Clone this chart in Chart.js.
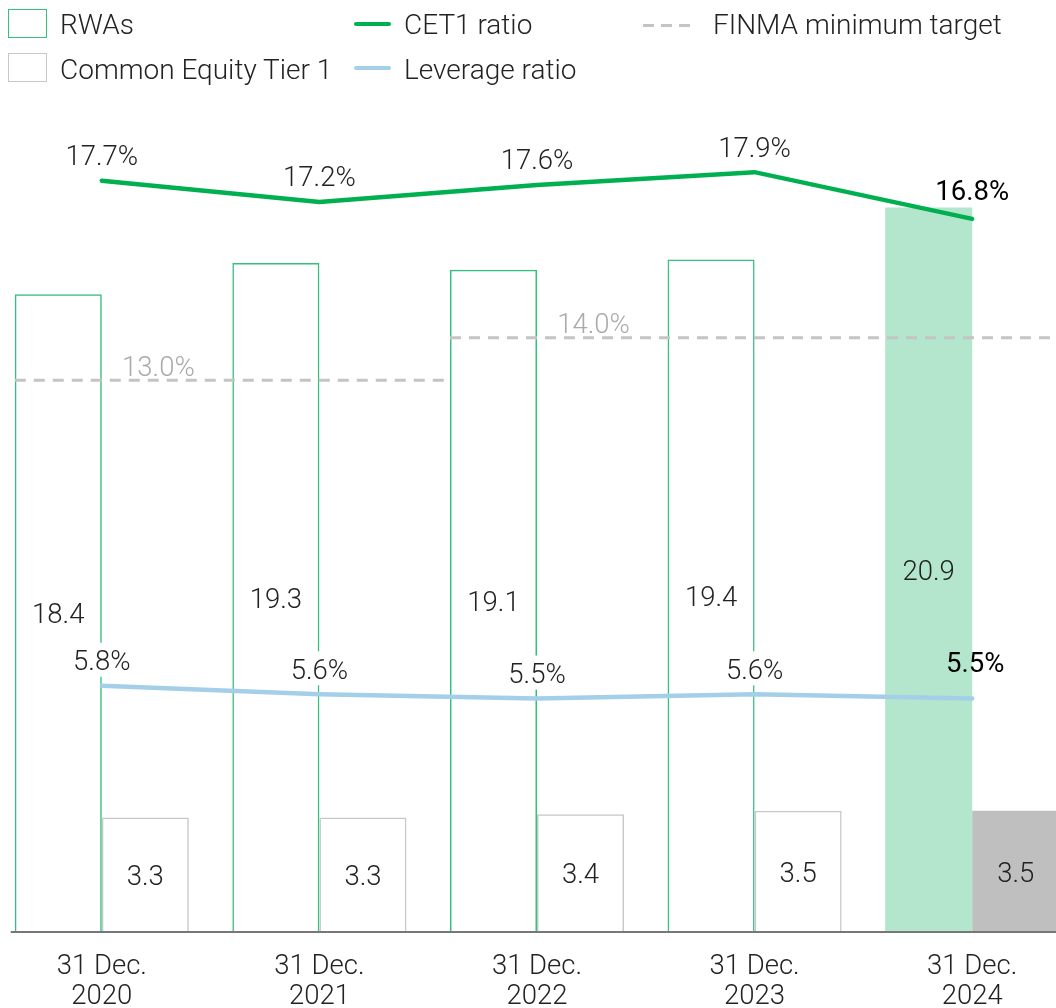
<!DOCTYPE html>
<html>
<head>
<meta charset="utf-8">
<script src="https://cdn.jsdelivr.net/npm/chart.js@4"></script>
<style>
  html, body { margin: 0; padding: 0; background: #fff; overflow: hidden; width: 1056px; height: 1008px; }
  body { position: relative; font-family: Roboto, sans-serif; font-weight: 300; color: #222; }
  #wrap { position: absolute; left: -7px; top: 0; width: 1088px; height: 1008px; }
  .lg { position: absolute; font-size: 28px; line-height: 30px; white-space: nowrap; }
  .box { position: absolute; width: 37px; height: 27px; box-sizing: content-box; }
  .bar { position: absolute; width: 37px; height: 4px; border-radius: 2px; }
  .dash { position: absolute; width: 47px; height: 3px;
    background: repeating-linear-gradient(to right, #c4c4c4 0 11px, transparent 11px 18px); }
</style>
</head>
<body>
<div id="wrap"><canvas id="chart" width="1088" height="1008"></canvas></div>

<div class="box" style="left:8px; top:9px; border:1.5px solid #33c07a;"></div>
<div class="lg" style="left:60px; top:10px;">RWAs</div>
<div class="box" style="left:8px; top:53px; border:1.5px solid #c8c8c8;"></div>
<div class="lg" style="left:60px; top:55px;">Common Equity Tier 1</div>
<div class="bar" style="left:354px; top:22px; background:#00b050;"></div>
<div class="lg" style="left:404px; top:10px;">CET1 ratio</div>
<div class="bar" style="left:354px; top:66px; background:#a3cfe9;"></div>
<div class="lg" style="left:404px; top:55px;">Leverage ratio</div>
<div class="dash" style="left:643px; top:24px;"></div>
<div class="lg" style="left:713px; top:10px;">FINMA minimum target</div>

<script>
const years = ['2020', '2021', '2022', '2023', '2024'];
const rwas = [18.4, 19.3, 19.1, 19.4, 20.9];
const cet1 = [3.3, 3.3, 3.4, 3.5, 3.5];
const cet1Ratio = [17.7, 17.2, 17.6, 17.9, 16.8];
const leverageRatio = [5.8, 5.6, 5.5, 5.6, 5.5];
const finmaTarget = [13.0, 13.0, 14.0, 14.0, 14.0];

const FONT = 27.5;
const DY = 3.5; // Roboto sits a bit high with textBaseline middle
const n = years.length;
const clear = 'rgba(0,0,0,0)';

// group the FINMA target into flat runs of equal value
const finmaSegments = [];
finmaTarget.forEach((v, i) => {
  const prev = finmaSegments[finmaSegments.length - 1];
  if (prev && prev.value === v) prev.last = i;
  else finmaSegments.push({ value: v, first: i, last: i });
});

const labelPlugin = {
  id: 'valueLabels',
  afterDatasetsDraw(chart) {
    const ctx = chart.ctx;
    const xs = chart.scales.x;
    const y1 = chart.scales.y1;
    const y0 = chart.scales.y.getPixelForValue(0);
    const rwaBars = chart.getDatasetMeta(0).data;
    const cetBars = chart.getDatasetMeta(1).data;
    const catW = xs.getPixelForValue(1) - xs.getPixelForValue(0);
    ctx.save();

    // FINMA minimum target, one dashed segment per run
    ctx.strokeStyle = '#c4c4c4';
    ctx.lineWidth = 3;
    ctx.setLineDash([11, 8]);
    finmaSegments.forEach((s, k) => {
      const b = rwaBars[s.first];
      s.x0 = b.x - b.width / 2;
      if (k < finmaSegments.length - 1) {
        const nb = rwaBars[s.last + 1];
        s.x1 = nb.x - nb.width / 2;
      } else {
        const cb = cetBars[s.last];
        s.x1 = cb.x + cb.width / 2;
      }
      const y = y1.getPixelForValue(s.value);
      ctx.beginPath();
      ctx.moveTo(s.x0, y);
      ctx.lineTo(s.x1, y);
      ctx.stroke();
    });
    ctx.setLineDash([]);

    // base line
    ctx.strokeStyle = '#777';
    ctx.lineWidth = 2;
    ctx.beginPath();
    ctx.moveTo(rwaBars[0].x - rwaBars[0].width / 2 - 4, y0);
    ctx.lineTo(chart.chartArea.right, y0);
    ctx.stroke();

    ctx.textAlign = 'center';
    ctx.textBaseline = 'middle';
    chart.data.datasets.forEach((ds, di) => {
      const meta = chart.getDatasetMeta(di);
      if (ds.type === 'bar') {
        ctx.font = '300 ' + FONT + 'px Roboto';
        ctx.fillStyle = '#222';
        meta.data.forEach((el, i) => {
          ctx.fillText(ds.data[i].toFixed(1), el.x, (el.y + el.base) / 2 + DY);
        });
      } else if (ds.pointLabels) {
        meta.data.forEach((el, i) => {
          const last = i === meta.data.length - 1;
          const txt = ds.data[i].toFixed(1) + '%';
          const ty = el.y - (last ? ds.lastLift : 26);
          ctx.font = (last ? '400 ' : '300 ') + FONT + 'px Roboto';
          if (!last) {
            const w = ctx.measureText(txt).width + 8;
            ctx.fillStyle = '#fff';
            ctx.fillRect(el.x - w / 2, ty - 17, w, 34);
          }
          ctx.fillStyle = last ? '#000' : '#222';
          ctx.fillText(txt, el.x + (last ? ds.lastShift : 0), ty + DY);
        });
      }
    });

    ctx.font = '300 ' + FONT + 'px Roboto';
    ctx.fillStyle = '#aaa';
    finmaSegments.forEach(s => {
      const y = y1.getPixelForValue(s.value) - 15;
      ctx.fillText(s.value.toFixed(1) + '%', s.x0 + 0.66 * catW, y + DY);
    });
    ctx.restore();
  }
};

new Chart(document.getElementById('chart'), {
  data: {
    labels: years.map(y => ['31 Dec.', y]),
    datasets: [
      {
        type: 'bar',
        label: 'RWAs',
        data: rwas,
        yAxisID: 'y',
        backgroundColor: rwas.map((v, i) => i === n - 1 ? '#b3e6cc' : clear),
        borderColor: rwas.map((v, i) => i === n - 1 ? '#b3e6cc' : '#33c07a'),
        borderWidth: rwas.map((v, i) => i === n - 1 ? 0 : 1.5),
        barPercentage: 1,
        categoryPercentage: 0.8,
        order: 3
      },
      {
        type: 'bar',
        label: 'Common Equity Tier 1',
        data: cet1,
        yAxisID: 'y',
        backgroundColor: cet1.map((v, i) => i === n - 1 ? '#bfbfbf' : clear),
        borderColor: cet1.map((v, i) => i === n - 1 ? '#bfbfbf' : '#c8c8c8'),
        borderWidth: cet1.map((v, i) => i === n - 1 ? 0 : 1.5),
        barPercentage: 1,
        categoryPercentage: 0.8,
        order: 4
      },
      {
        type: 'line',
        label: 'CET1 ratio',
        data: cet1Ratio,
        yAxisID: 'y1',
        borderColor: '#00b050',
        borderWidth: 4.5,
        borderCapStyle: 'round',
        pointRadius: 0,
        pointLabels: true,
        lastLift: 29,
        lastShift: 0,
        order: 0
      },
      {
        type: 'line',
        label: 'Leverage ratio',
        data: leverageRatio,
        yAxisID: 'y1',
        borderColor: '#a3cfe9',
        borderWidth: 4.5,
        borderCapStyle: 'round',
        pointRadius: 0,
        pointLabels: true,
        lastLift: 37,
        lastShift: 3,
        order: 1
      }
    ]
  },
  options: {
    responsive: false,
    animation: false,
    layout: { padding: { top: 100, left: 0, right: 0, bottom: 0 } },
    plugins: { legend: { display: false }, tooltip: { enabled: false } },
    scales: {
      x: {
        type: 'category',
        offset: true,
        grid: { display: false },
        border: { display: false },
        ticks: {
          color: '#222',
          padding: 12,
          maxRotation: 0,
          font: { family: 'Roboto', size: FONT, weight: 300, lineHeight: 1.1 }
        },
        afterFit: s => { s.height = 76; }
      },
      y: { type: 'linear', display: false, min: 0, max: 24 },
      y1: { type: 'linear', display: false, min: 0, max: 19.6 }
    }
  },
  plugins: [labelPlugin]
});
</script>
</body>
</html>
